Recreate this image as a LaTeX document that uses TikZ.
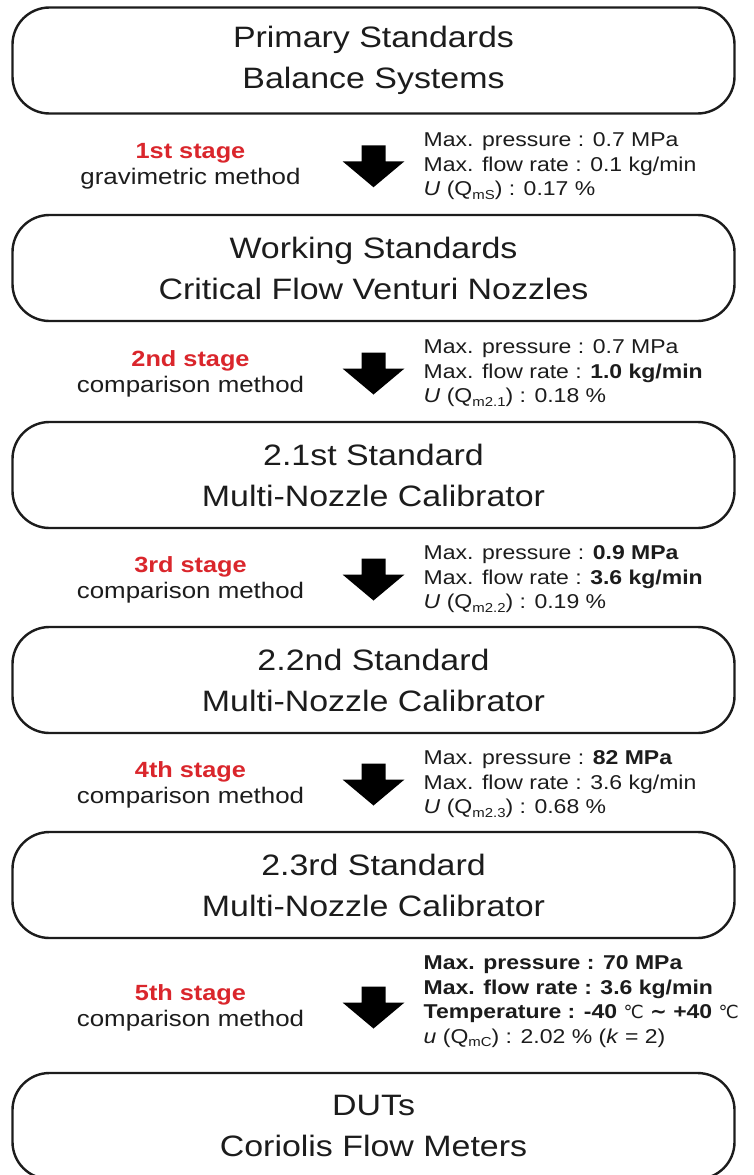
\documentclass[tikz,border=0pt]{standalone}
\usepackage{fontspec}
\usetikzlibrary{calc}
\setmainfont{Liberation Sans}[FakeStretch=1.15]
\newfontfamily\symfont{DejaVu Sans}
\definecolor{stagered}{RGB}{218,38,44}
\definecolor{ink}{RGB}{28,28,28}
\newcommand\sbs[1]{\raisebox{-0.35ex}{\fontsize{13}{13}\selectfont #1}}
\newcommand\degc{{\symfont\mdseries\fontsize{18}{18}\selectfont ℃}}
\newcommand\approxto{{\symfont ∼}}
\newcommand\stagetitle[1]{{\fontsize{22}{26}\selectfont\bfseries\color{stagered}#1}}
\begin{document}
\begin{tikzpicture}[x=1pt,y=1pt,
  stdbox/.style={draw=ink, line width=2.4pt, rounded corners=37pt, minimum width=722pt, minimum height=106pt, inner sep=0pt, align=center, text=ink, font=\fontsize{29.5}{41}\selectfont},
  stagelbl/.style={align=center, text=ink, font=\fontsize{22.5}{26}\selectfont, inner sep=0pt},
  info/.style={anchor=west, align=left, text=ink, font=\fontsize{20}{24.5}\selectfont, inner sep=0pt},
  blockarrow/.style={fill=black, draw=none}
]
\useasboundingbox (0,0) rectangle (754,-1175);
\clip (0,0) rectangle (754,-1175);
\fill[white] (0,0) rectangle (754,-1175);

% boxes
\node[stdbox] (b1) at (373.5,-60.5) {Primary Standards\\Balance Systems};
\node[stdbox] (b2) at (373.5,-268) {Working Standards\\Critical Flow Venturi Nozzles};
\node[stdbox] (b3) at (373.5,-475) {2.1st Standard\\Multi-Nozzle Calibrator};
\node[stdbox] (b4) at (373.5,-680) {2.2nd Standard\\Multi-Nozzle Calibrator};
\node[stdbox] (b5) at (373.5,-885) {2.3rd Standard\\Multi-Nozzle Calibrator};
\node[stdbox] (b6) at (373.5,-1126) {DUTs\\Coriolis Flow Meters};

% arrow centres
\coordinate (a1) at ($(b1.south)!0.5!(b2.north)+(0,-2)$);
\coordinate (a2) at ($(b2.south)!0.5!(b3.north)+(0,-2)$);
\coordinate (a3) at ($(b3.south)!0.5!(b4.north)+(0,-2)$);
\coordinate (a4) at ($(b4.south)!0.5!(b5.north)+(0,-2)$);
\coordinate (a5) at ($(b5.south)!0.5!(b6.north)+(0,-2)$);
\foreach \a in {a1,a2,a3,a4,a5}{
  \fill[blockarrow] (\a) ++(-12,21) -- ++(24,0) -- ++(0,-16) -- ++(19,0) -- ++(-31,-26) -- ++(-31,26) -- ++(19,0) -- cycle;
}

% stage labels
\node[stagelbl] (s1) at ($(a1)+(-183,0)$) {\stagetitle{1st stage}\\gravimetric method};
\node[stagelbl] (s2) at ($(a2)+(-183,0)$) {\stagetitle{2nd stage}\\comparison method};
\node[stagelbl] (s3) at ($(a3)+(-183,0)$) {\stagetitle{3rd stage}\\comparison method};
\node[stagelbl] (s4) at ($(a4)+(-183,0)$) {\stagetitle{4th stage}\\comparison method};
\node[stagelbl] (s5) at ($(a5)+(-183,0)$) {\stagetitle{5th stage}\\comparison method};

% info
\node[info] (i1) at ($(a1)+(50,0)$) {Max. pressure : 0.7 MPa\\Max. flow rate : 0.1 kg/min\\\textit{U} (Q\sbs{mS}) : 0.17 \%};
\node[info] (i2) at ($(a2)+(50,0)$) {Max. pressure : 0.7 MPa\\Max. flow rate : \textbf{1.0 kg/min}\\\textit{U} (Q\sbs{m2.1}) : 0.18 \%};
\node[info] (i3) at ($(a3)+(50,0)$) {Max. pressure : \textbf{0.9 MPa}\\Max. flow rate : \textbf{3.6 kg/min}\\\textit{U} (Q\sbs{m2.2}) : 0.19 \%};
\node[info] (i4) at ($(a4)+(50,0)$) {Max. pressure : \textbf{82 MPa}\\Max. flow rate : 3.6 kg/min\\\textit{U} (Q\sbs{m2.3}) : 0.68 \%};
\node[info] (i5) at ($(a5)+(50,6)$) {\textbf{Max. pressure : 70 MPa}\\\textbf{Max. flow rate : 3.6 kg/min}\\\textbf{Temperature : -40 \degc{} \approxto{} +40 \degc}\\\textit{u} (Q\sbs{mC}) : 2.02 \% (\textit{k} = 2)};
\end{tikzpicture}
\end{document}
